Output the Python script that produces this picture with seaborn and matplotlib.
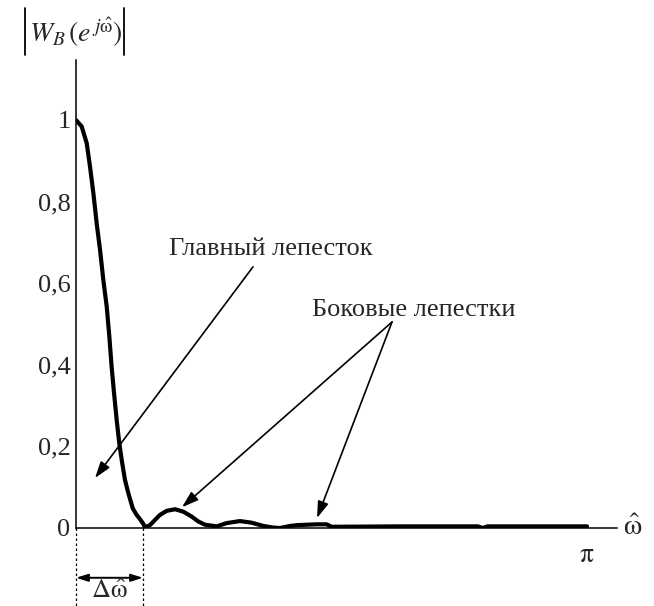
import numpy as np
import pandas as pd
import matplotlib
matplotlib.use("Agg")
import matplotlib.pyplot as plt
from matplotlib.lines import Line2D
import seaborn as sns

# ---- data ----
omega = [0.0, 0.035, 0.066, 0.086, 0.107, 0.127, 0.148, 0.168, 0.189, 0.205,
         0.219, 0.234, 0.250, 0.266, 0.281, 0.301, 0.322, 0.349, 0.373, 0.393,
         0.414, 0.424, 0.455, 0.486, 0.516, 0.557, 0.609, 0.660, 0.711, 0.752,
         0.793, 0.865, 0.926, 1.008, 1.080, 1.152, 1.213, 1.254, 1.316, 1.357,
         1.480, 1.541, 1.572, 2.0, 2.47, 2.50, 2.53, 3.1416]
magnitude = [1.0, 0.984, 0.943, 0.886, 0.820, 0.747, 0.681, 0.608, 0.542, 0.469,
             0.395, 0.330, 0.265, 0.208, 0.167, 0.118, 0.085, 0.048, 0.032, 0.022,
             0.010, 0.002, 0.007, 0.020, 0.032, 0.042, 0.046, 0.040, 0.028, 0.016,
             0.008, 0.004, 0.012, 0.017, 0.013, 0.005, 0.001, 0.0, 0.005, 0.007,
             0.009, 0.009, 0.003, 0.004, 0.004, 0.0, 0.004, 0.004]
y_ticks = [0, 0.2, 0.4, 0.6, 0.8, 1.0]
y_tick_labels = ["0", "0,2", "0,4", "0,6", "0,8", "1"]
x_ticks = [np.pi]
x_tick_labels = [r"$\mathrm{\pi}$"]
delta_omega = 0.412
main_lobe_label = "Главный лепесток"
side_lobe_label = "Боковые лепестки"

df = pd.DataFrame({"omega": omega, "mag": magnitude})

sns.set_style("white")
plt.rcParams["font.family"] = ["Liberation Serif", "DejaVu Serif"]
plt.rcParams["mathtext.fontset"] = "stix"

W, H = 654, 606
fig = plt.figure(figsize=(W / 100, H / 100), dpi=100)
x0, x1, y0, y1 = 76, 617, 528, 60
ax = fig.add_axes([x0 / W, (H - y0) / H, (x1 - x0) / W, (y0 - y1) / H])

px_per_rad = 511 / np.pi
ax.set_xlim(0, (x1 - x0) / px_per_rad)
ax.set_ylim(0, (y0 - y1) / 408)

sns.lineplot(data=df, x="omega", y="mag", ax=ax, color="black", linewidth=3.0,
             estimator=None, sort=False)
ax.lines[-1].set_solid_joinstyle("round")
ax.lines[-1].set_solid_capstyle("round")

for s in ["top", "right"]:
    ax.spines[s].set_visible(False)
for s in ["left", "bottom"]:
    ax.spines[s].set_color("black")
    ax.spines[s].set_linewidth(1.1)

ax.set_yticks(y_ticks)
ax.set_yticklabels(y_tick_labels)
ax.set_xticks(x_ticks)
ax.set_xticklabels(x_tick_labels)
ax.tick_params(axis="y", length=0, pad=4, labelsize=19)
ax.tick_params(axis="x", length=0, pad=11, labelsize=20)
ax.set_xlabel("")
ax.set_ylabel("")

# axis titles
fig.text(29 / W, 1 - 32 / H, r"$W_B\,(e^{\,j\hat{\mathrm{\omega}}})$",
         fontsize=20, ha="left", va="center")
for bx in (25, 124):
    fig.add_artist(Line2D([bx / W, bx / W], [1 - 8 / H, 1 - 55 / H],
                          color="black", lw=1.3))
ax.text(1.012, 0.0, r"$\hat{\mathrm{\omega}}$", transform=ax.transAxes,
        fontsize=21, ha="left", va="center")

# annotations
arrow_kw = dict(arrowstyle="-|>,head_length=1.0,head_width=0.33", color="black",
                lw=1.2, shrinkA=0, shrinkB=0)
ax.text(1.199, 0.669, main_lobe_label, fontsize=19, ha="center", va="baseline")
ax.annotate("", xy=(0.117, 0.1225), xytext=(1.088, 0.640), arrowprops=arrow_kw)
ax.text(2.078, 0.52, side_lobe_label, fontsize=19, ha="center", va="baseline")
apex = (1.943, 0.505)
ax.annotate("", xy=(0.652, 0.051), xytext=apex, arrowprops=arrow_kw)
ax.annotate("", xy=(1.482, 0.0245), xytext=apex, arrowprops=arrow_kw)

# delta omega marker below the axis
ax.plot([0, 0], [0, -0.19], ls=(0, (2, 2)), color="black", lw=0.9, clip_on=False)
ax.plot([delta_omega, delta_omega], [0, -0.19], ls=(0, (2, 2)), color="black",
        lw=0.9, clip_on=False)
ax.annotate("", xy=(0, -0.122), xytext=(delta_omega, -0.122),
            arrowprops=dict(arrowstyle="<|-|>,head_length=0.7,head_width=0.22",
                            color="black", lw=1.4, shrinkA=0, shrinkB=0),
            annotation_clip=False)
ax.text(delta_omega / 2, -0.155, r"$\Delta\hat{\mathrm{\omega}}$", fontsize=19,
        ha="center", va="center")

fig.savefig("out.png", dpi=100, facecolor="white")
